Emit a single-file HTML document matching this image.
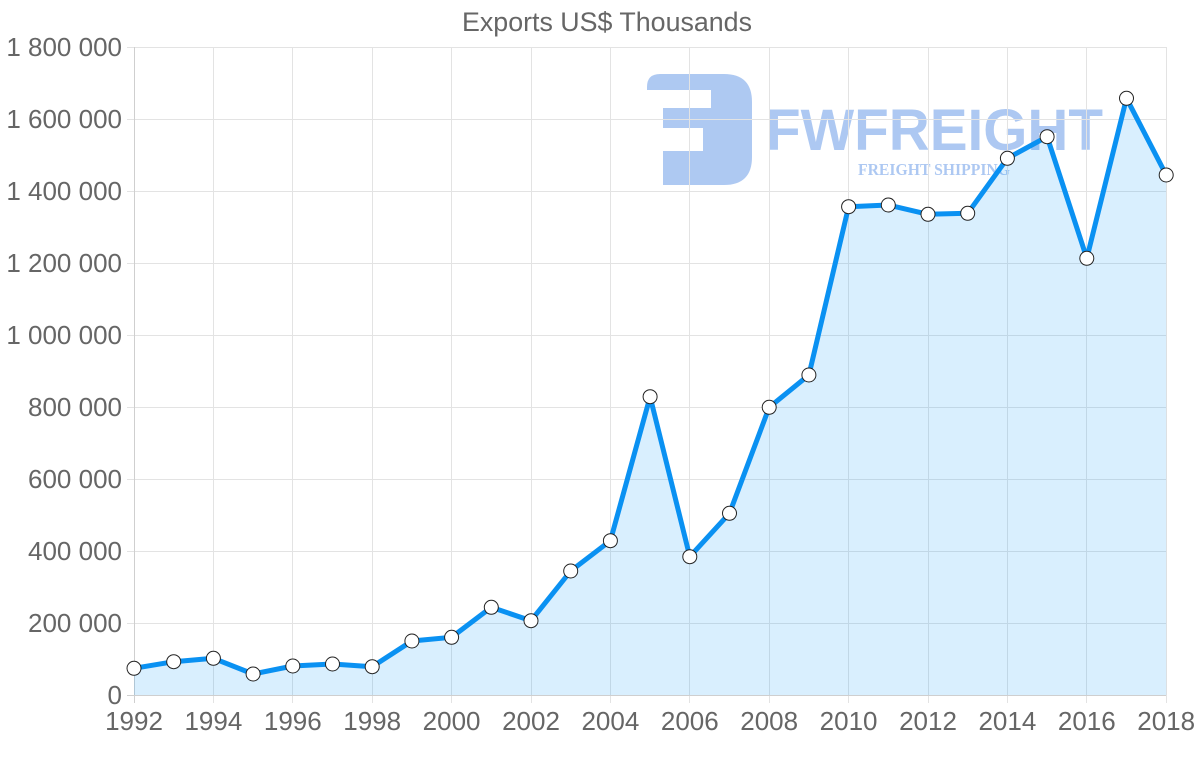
<!DOCTYPE html>
<html>
<head>
<meta charset="utf-8">
<style>
html,body{margin:0;padding:0;background:#fff;}
svg{display:block;}
</style>
</head>
<body>
<svg width="1200" height="763" viewBox="0 0 1200 763" xmlns="http://www.w3.org/2000/svg">
  <rect width="1200" height="763" fill="#fff"/>
  <!-- watermark -->
  <g opacity="0.5">
    <path d="M 647,90 L 647,87 Q 647,74 660,74 L 724,74 Q 752,74 752,102 L 752,157 Q 752,185 724,185 L 663,185 L 663,151 L 703,151 L 703,128 L 663,128 L 663,108 L 711,108 L 711,90 Z" fill="#5d93e6"/>
    <text x="766" y="150" font-family="Liberation Sans, sans-serif" font-weight="bold" font-size="58" fill="#5d93e6" textLength="337" lengthAdjust="spacingAndGlyphs">FWFREIGHT</text>
    <text x="858" y="175" font-family="Liberation Serif, serif" font-weight="bold" font-size="17" fill="#5d93e6" textLength="152" lengthAdjust="spacingAndGlyphs">FREIGHT SHIPPING</text>
  </g>
  <!-- horizontal grid -->
  <g stroke="#e3e3e3" stroke-width="1">
    <line x1="127" y1="47.5" x2="1166" y2="47.5"/>
    <line x1="127" y1="119.5" x2="1166" y2="119.5"/>
    <line x1="127" y1="191.5" x2="1166" y2="191.5"/>
    <line x1="127" y1="263.5" x2="1166" y2="263.5"/>
    <line x1="127" y1="335.5" x2="1166" y2="335.5"/>
    <line x1="127" y1="407.5" x2="1166" y2="407.5"/>
    <line x1="127" y1="479.5" x2="1166" y2="479.5"/>
    <line x1="127" y1="551.5" x2="1166" y2="551.5"/>
    <line x1="127" y1="623.5" x2="1166" y2="623.5"/>
  </g>
  <!-- vertical grid -->
  <g stroke="#e3e3e3" stroke-width="1">
    <line x1="213.5" y1="47" x2="213.5" y2="703"/>
    <line x1="292.5" y1="47" x2="292.5" y2="703"/>
    <line x1="372.5" y1="47" x2="372.5" y2="703"/>
    <line x1="451.5" y1="47" x2="451.5" y2="703"/>
    <line x1="531.5" y1="47" x2="531.5" y2="703"/>
    <line x1="610.5" y1="47" x2="610.5" y2="703"/>
    <line x1="689.5" y1="47" x2="689.5" y2="703"/>
    <line x1="769.5" y1="47" x2="769.5" y2="703"/>
    <line x1="848.5" y1="47" x2="848.5" y2="703"/>
    <line x1="928.5" y1="47" x2="928.5" y2="703"/>
    <line x1="1007.5" y1="47" x2="1007.5" y2="703"/>
    <line x1="1086.5" y1="47" x2="1086.5" y2="703"/>
    <line x1="1166.5" y1="47" x2="1166.5" y2="703"/>
  </g>
  <!-- axes -->
  <line x1="134.5" y1="47" x2="134.5" y2="703" stroke="#cfcfcf" stroke-width="1"/>
  <line x1="127" y1="695.5" x2="1166" y2="695.5" stroke="#cfcfcf" stroke-width="1"/>
  <!-- fill -->
  <path d="M134,668.3 L173.7,661.7 L213.4,658.3 L253.1,674 L292.8,666 L332.5,664 L372.2,666.7 L411.9,641 L451.6,637.3 L491.3,607.3 L531,620.7 L570.7,571 L610.4,540.7 L650.1,396.7 L689.8,556.7 L729.5,513.3 L769.2,407.3 L808.9,375 L848.6,206.7 L888.3,205 L928,214.3 L967.7,213.3 L1007.4,158.3 L1047.1,136.7 L1086.8,258.3 L1126.5,98.3 L1166.2,175 L1166.2,695 L134,695 Z" fill="rgba(0,145,245,0.15)"/>
  <!-- line -->
  <polyline points="134,668.3 173.7,661.7 213.4,658.3 253.1,674 292.8,666 332.5,664 372.2,666.7 411.9,641 451.6,637.3 491.3,607.3 531,620.7 570.7,571 610.4,540.7 650.1,396.7 689.8,556.7 729.5,513.3 769.2,407.3 808.9,375 848.6,206.7 888.3,205 928,214.3 967.7,213.3 1007.4,158.3 1047.1,136.7 1086.8,258.3 1126.5,98.3 1166.2,175" fill="none" stroke="#0a91f2" stroke-width="5" stroke-linejoin="round"/>
  <!-- points -->
  <g fill="#fff" stroke="#222" stroke-width="1">
    <circle cx="134" cy="668.3" r="7"/>
    <circle cx="173.7" cy="661.7" r="7"/>
    <circle cx="213.4" cy="658.3" r="7"/>
    <circle cx="253.1" cy="674" r="7"/>
    <circle cx="292.8" cy="666" r="7"/>
    <circle cx="332.5" cy="664" r="7"/>
    <circle cx="372.2" cy="666.7" r="7"/>
    <circle cx="411.9" cy="641" r="7"/>
    <circle cx="451.6" cy="637.3" r="7"/>
    <circle cx="491.3" cy="607.3" r="7"/>
    <circle cx="531" cy="620.7" r="7"/>
    <circle cx="570.7" cy="571" r="7"/>
    <circle cx="610.4" cy="540.7" r="7"/>
    <circle cx="650.1" cy="396.7" r="7"/>
    <circle cx="689.8" cy="556.7" r="7"/>
    <circle cx="729.5" cy="513.3" r="7"/>
    <circle cx="769.2" cy="407.3" r="7"/>
    <circle cx="808.9" cy="375" r="7"/>
    <circle cx="848.6" cy="206.7" r="7"/>
    <circle cx="888.3" cy="205" r="7"/>
    <circle cx="928" cy="214.3" r="7"/>
    <circle cx="967.7" cy="213.3" r="7"/>
    <circle cx="1007.4" cy="158.3" r="7"/>
    <circle cx="1047.1" cy="136.7" r="7"/>
    <circle cx="1086.8" cy="258.3" r="7"/>
    <circle cx="1126.5" cy="98.3" r="7"/>
    <circle cx="1166.2" cy="175" r="7"/>
  </g>
  <!-- title -->
  <text x="607" y="31" text-anchor="middle" font-family="Liberation Sans, sans-serif" font-size="26.8" fill="#666">Exports US$ Thousands</text>
  <!-- y labels -->
  <g font-family="Liberation Sans, sans-serif" font-size="26" fill="#666" text-anchor="end">
    <text x="122" y="56">1 800 000</text>
    <text x="122" y="128">1 600 000</text>
    <text x="122" y="200">1 400 000</text>
    <text x="122" y="272">1 200 000</text>
    <text x="122" y="344">1 000 000</text>
    <text x="122" y="416">800 000</text>
    <text x="122" y="488">600 000</text>
    <text x="122" y="560">400 000</text>
    <text x="122" y="632">200 000</text>
    <text x="122" y="704">0</text>
  </g>
  <!-- x labels -->
  <g font-family="Liberation Sans, sans-serif" font-size="26" fill="#666" text-anchor="middle">
    <text x="134" y="730">1992</text>
    <text x="213.4" y="730">1994</text>
    <text x="292.8" y="730">1996</text>
    <text x="372.2" y="730">1998</text>
    <text x="451.6" y="730">2000</text>
    <text x="531" y="730">2002</text>
    <text x="610.4" y="730">2004</text>
    <text x="689.8" y="730">2006</text>
    <text x="769.2" y="730">2008</text>
    <text x="848.6" y="730">2010</text>
    <text x="928" y="730">2012</text>
    <text x="1007.4" y="730">2014</text>
    <text x="1086.8" y="730">2016</text>
    <text x="1166.2" y="730">2018</text>
  </g>
</svg>
</body>
</html>
